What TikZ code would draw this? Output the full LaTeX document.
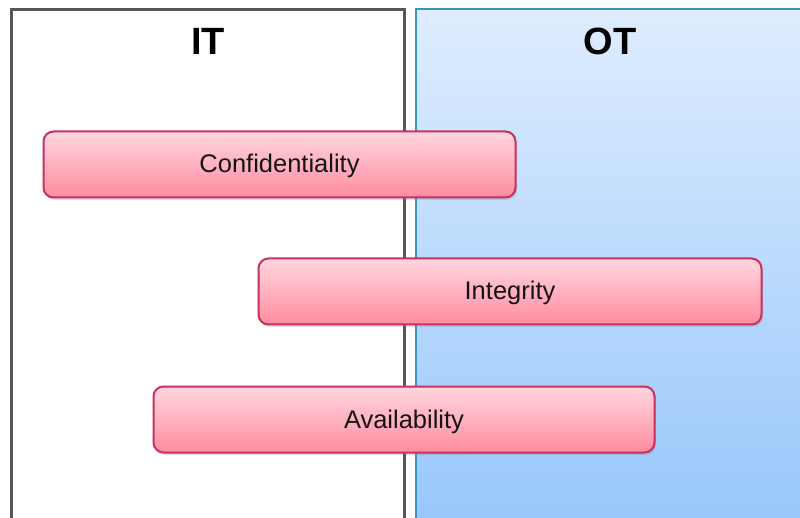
\documentclass[tikz,border=0pt]{standalone}
\usepackage{fontspec}
\setmainfont{Liberation Sans}
\usetikzlibrary{shadows}
\definecolor{itborder}{RGB}{88,88,88}
\definecolor{otborder}{RGB}{58,148,190}
\definecolor{ottop}{RGB}{222,237,255}
\definecolor{otbot}{RGB}{150,198,250}
\definecolor{pkborder}{RGB}{200,48,98}
\definecolor{pktop}{RGB}{255,214,222}
\definecolor{pkbot}{RGB}{255,140,160}
\tikzset{
  panelIT/.style={draw=itborder, line width=3pt, fill=white},
  panelOT/.style={draw=otborder, line width=2pt, top color=ottop, bottom color=otbot},
  header/.style={font=\fontsize{38}{40}\selectfont\bfseries, text=black},
  bar/.style={draw=pkborder, line width=2pt, rounded corners=10pt,
    top color=pktop, bottom color=pkbot,
    drop shadow={opacity=0.25, shadow xshift=1.5pt, shadow yshift=-2.5pt},
    minimum height=66pt, inner sep=0pt, text height=17pt, text depth=0pt,
    font=\fontsize{25.5}{27}\selectfont, text=black!92}
}
\begin{document}
\begin{tikzpicture}[x=1pt,y=-1pt]
\useasboundingbox (0,0) rectangle (800,518);
\begin{scope}
\clip (0,0) rectangle (800,518);
\path[panelIT] (11,10) rectangle (404,540);
\path[panelOT] (416,9) rectangle (820,540);
\end{scope}
\node[header] (it) at (208,41) {IT};
\node[header] (ot) at (610,41) {OT};
\node[bar, minimum width=472pt] (conf) at (279.5,164.5) {Confidentiality};
\node[bar, minimum width=503pt] (integ) at (510,291.5) {Integrity};
\node[bar, minimum width=501pt] (avail) at (404,419.5) {Availability};
\end{tikzpicture}
\end{document}
